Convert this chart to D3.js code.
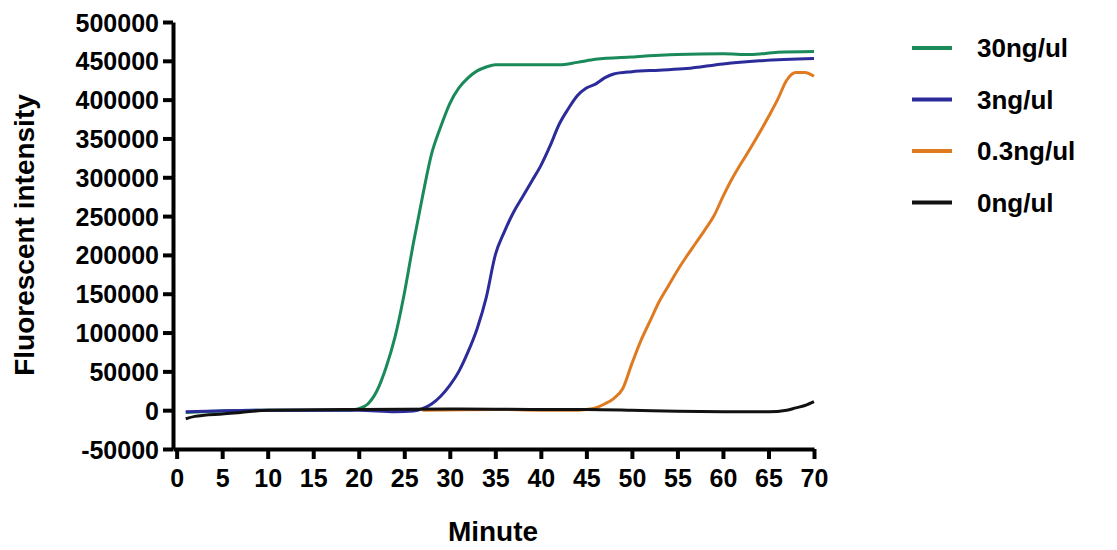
<!DOCTYPE html>
<html><head><meta charset="utf-8">
<script src="https://cdn.jsdelivr.net/npm/d3@7"></script>
<style>body{margin:0;background:#fff}text{font-family:Arial,"Liberation Sans",sans-serif;font-weight:bold}</style>
</head><body><svg id="c" width="1117" height="550"></svg>
<script>
var seriesNames = ["30ng/ul", "3ng/ul", "0.3ng/ul", "0ng/ul"];
var seriesColors = ["#1a8a5a", "#2b2b9a", "#e07a20", "#111111"];
var green = [[1,-3000],[5,-1000],[10,0],[15,0],[19,0],[20,2000],[21,8000],[22,25000],[23,55000],[24,95000],[25,150000],[26,215000],[27,275000],[28,330000],[29,365000],[30,395000],[31,415000],[32,428000],[33,437000],[34,442000],[35,445000],[36,445000],[42,445000],[44,448000],[46,452000],[50,455000],[55,458000],[60,459000],[63,458000],[66,461000],[70,462000]];
var blue = [[1,-2000],[10,0],[20,0],[24,-2000],[26,-1000],[27,2000],[28,8000],[29,18000],[30,32000],[31,50000],[32,75000],[33,105000],[34,145000],[35,200000],[36,230000],[37,255000],[38,275000],[39,295000],[40,315000],[41,340000],[42,368000],[43,388000],[44,405000],[45,415000],[46,420000],[47,428000],[48,433000],[50,436000],[53,438000],[56,440000],[60,446000],[64,450000],[70,453000]];
var orange = [[27,0],[35,1000],[40,0],[44,0],[45,1000],[46,3000],[47,8000],[48,15000],[49,28000],[50,60000],[51,90000],[52,115000],[53,140000],[54,160000],[55,180000],[56,198000],[57,215000],[58,232000],[59,250000],[60,275000],[61,298000],[62,318000],[63,337000],[64,357000],[65,378000],[66,400000],[67,425000],[68,435000],[69,435000],[70,430000]];
var black = [[1,-11000],[2,-8000],[3,-6500],[5,-5000],[7,-3000],[10,0],[20,1000],[30,1500],[40,1000],[45,1000],[50,0],[55,-1500],[60,-2000],[65,-2000],[67,0],[68,3000],[69,6000],[70,11000]];
var seriesData = [green, blue, orange, black];
var yTicks = [-50000,0,50000,100000,150000,200000,250000,300000,350000,400000,450000,500000];
var xTicks = [0,5,10,15,20,25,30,35,40,45,50,55,60,65,70];

var svg = d3.select("#c");
var x = d3.scaleLinear().domain([-0.4, 70]).range([173, 814]);
var y = d3.scaleLinear().domain([-50000, 500000]).range([449, 22]);

var line = d3.line().x(d => x(d[0])).y(d => y(d[1])).curve(d3.curveMonotoneX);
seriesData.forEach(function(s, i) {
  svg.append("path").attr("d", line(s)).attr("fill", "none")
    .attr("stroke", seriesColors[i]).attr("stroke-width", 3);
});

var xa = svg.append("g").attr("transform", "translate(0," + y(-50000) + ")")
  .call(d3.axisBottom(x).tickValues(xTicks).tickSize(10).tickSizeOuter(0));
var ya = svg.append("g").attr("transform", "translate(" + x(-0.4) + ",0)")
  .call(d3.axisLeft(y).tickValues(yTicks).tickSize(10).tickSizeOuter(0).tickFormat(d => String(d)));
[xa, ya].forEach(function(a) {
  a.select(".domain").attr("stroke", "#000").attr("stroke-width", 4);
  a.selectAll(".tick line").attr("stroke", "#000").attr("stroke-width", 4);
  a.selectAll("text").attr("fill", "#000").style("font-size", "25px");
});
xa.selectAll("text").attr("dy", "1.0em");
ya.selectAll("text").attr("dx", "-1px").attr("dy", "0.36em");

svg.append("text").attr("x", 493).attr("y", 541).attr("text-anchor", "middle")
  .style("font-size", "28px").text("Minute");
svg.append("text").attr("transform", "translate(34,235) rotate(-90)").attr("text-anchor", "middle")
  .style("font-size", "28px").text("Fluorescent  intensity");

var lg = svg.append("g");
seriesNames.forEach(function(n, i) {
  var yy = 48 + i * 51.5;
  lg.append("line").attr("x1", 912).attr("x2", 952).attr("y1", yy).attr("y2", yy)
    .attr("stroke", seriesColors[i]).attr("stroke-width", 4);
  lg.append("text").attr("x", 977).attr("y", yy).attr("dy", "0.36em")
    .style("font-size", "26px").text(n);
});
</script></body></html>
